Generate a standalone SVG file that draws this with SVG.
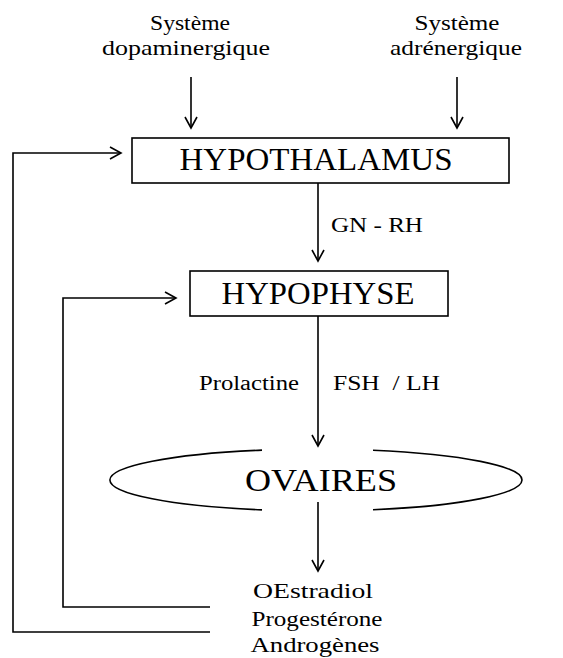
<svg xmlns="http://www.w3.org/2000/svg" width="563" height="658" viewBox="0 0 563 658">
<defs>
<marker id="ah" markerWidth="14" markerHeight="14" refX="12" refY="7" orient="auto" markerUnits="userSpaceOnUse">
<polyline points="1,1 12,7 1,13" fill="none" stroke="#000" stroke-width="1.6"/>
</marker>
<style>
text{font-family:'Times New Roman',Tinos,'Liberation Serif','Nimbus Roman','Nimbus Roman No9 L',FreeSerif,'Noto Serif',serif;fill:#000}
.s{font-size:22px}
.b{font-size:31px}
.l{font-size:20px}
.c{stroke:#000;stroke-width:1.6;fill:none}
.n{stroke:#000;stroke-width:1.6;fill:#fff}
</style>
</defs>
<rect width="563" height="658" fill="#fff"/>
<g id="connectors">
<line class="c" x1="191" y1="77" x2="191" y2="128" marker-end="url(#ah)"/>
<line class="c" x1="457" y1="77" x2="457" y2="128" marker-end="url(#ah)"/>
<line class="c" x1="318" y1="183" x2="318" y2="261" marker-end="url(#ah)"/>
<line class="c" x1="318" y1="316" x2="318" y2="446" marker-end="url(#ah)"/>
<line class="c" x1="318" y1="502" x2="318" y2="571" marker-end="url(#ah)"/>
<polyline class="c" points="210,632 13,632 13,153 121,153" marker-end="url(#ah)"/>
<polyline class="c" points="210,607 63,607 63,298 176,298" marker-end="url(#ah)"/>
</g>
<g id="sys-dopa">
<text class="s" x="190" y="30" text-anchor="middle" textLength="80" lengthAdjust="spacingAndGlyphs">Système</text>
<text class="s" x="186" y="55" text-anchor="middle" textLength="168" lengthAdjust="spacingAndGlyphs">dopaminergique</text>
</g>
<g id="sys-adre">
<text class="s" x="457" y="30" text-anchor="middle" textLength="85" lengthAdjust="spacingAndGlyphs">Système</text>
<text class="s" x="456" y="55" text-anchor="middle" textLength="132" lengthAdjust="spacingAndGlyphs">adrénergique</text>
</g>
<g id="hypothalamus">
<rect class="n" x="132" y="138" width="377" height="45"/>
<text class="b" x="316" y="170" text-anchor="middle" textLength="273" lengthAdjust="spacingAndGlyphs">HYPOTHALAMUS</text>
</g>
<g id="gnrh-label">
<text class="l" x="331" y="232" textLength="92" lengthAdjust="spacingAndGlyphs">GN - RH</text>
</g>
<g id="hypophyse">
<rect class="n" x="190" y="271" width="258" height="45"/>
<text class="b" x="318" y="304" text-anchor="middle" textLength="193" lengthAdjust="spacingAndGlyphs">HYPOPHYSE</text>
</g>
<g id="labels-hypo">
<text class="l" x="199" y="390" textLength="100" lengthAdjust="spacingAndGlyphs">Prolactine</text>
<text class="l" x="333" y="390" textLength="107" lengthAdjust="spacingAndGlyphs" xml:space="preserve">FSH  / LH</text>
</g>
<g id="ovaires">
<path class="c" d="M262,450.08 A206,31 0 0 0 262,509.92"/>
<path class="c" d="M373,450.21 A206,31 0 0 1 373,509.79"/>
<text class="b" x="321" y="491" text-anchor="middle" textLength="152" lengthAdjust="spacingAndGlyphs">OVAIRES</text>
</g>
<g id="hormones">
<text class="s" x="313" y="598" text-anchor="middle" textLength="120" lengthAdjust="spacingAndGlyphs">OEstradiol</text>
<text class="s" x="317" y="626" text-anchor="middle" textLength="131" lengthAdjust="spacingAndGlyphs">Progestérone</text>
<text class="s" x="315" y="652" text-anchor="middle" textLength="129" lengthAdjust="spacingAndGlyphs">Androgènes</text>
</g>
</svg>
